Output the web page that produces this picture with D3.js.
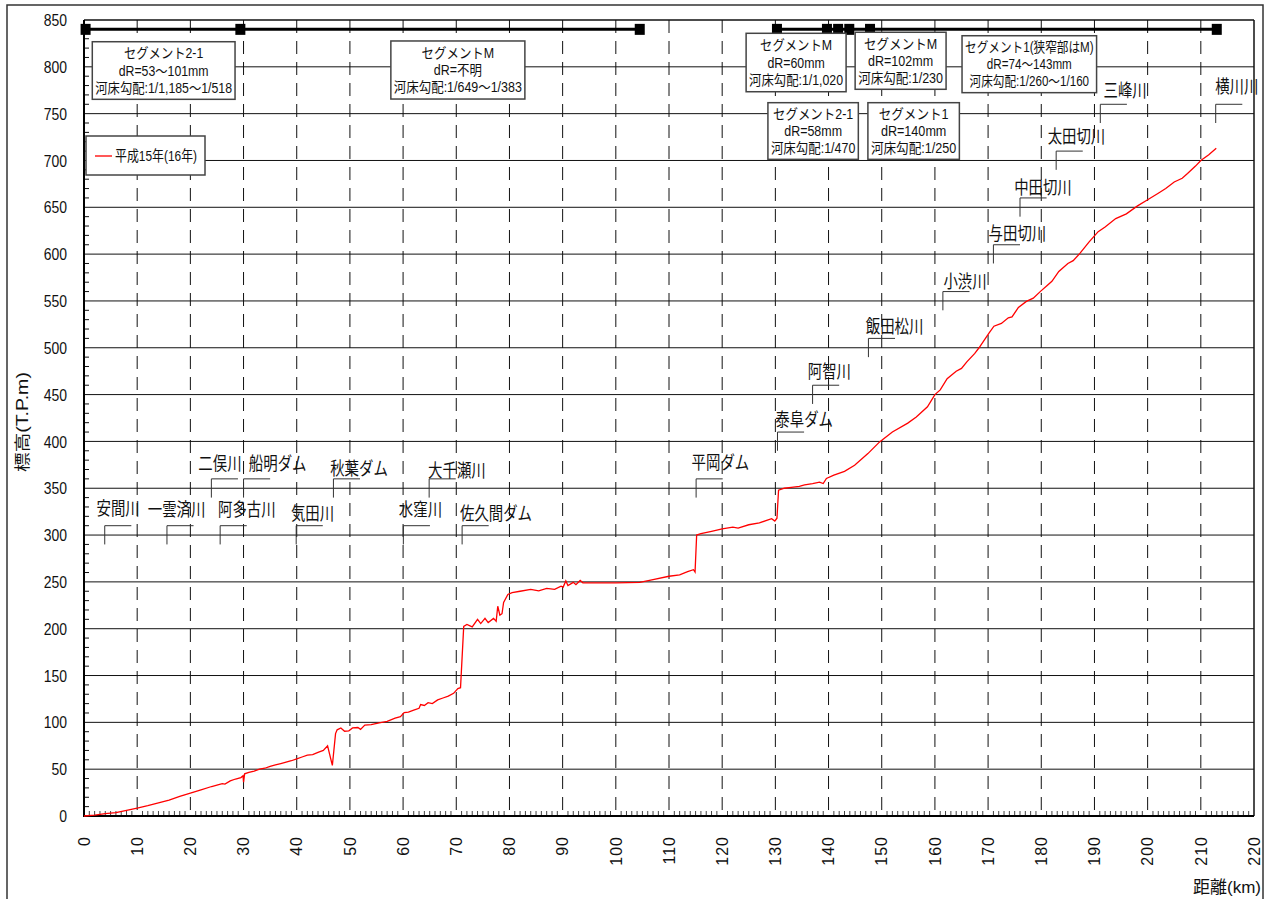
<!DOCTYPE html>
<html><head><meta charset="utf-8">
<script src="https://cdn.jsdelivr.net/npm/d3@7"></script>
<style>body{margin:0;background:#fff}svg{display:block}</style>
</head><body><svg id="c" width="1269" height="899"></svg>
<script>
// ---- data ----
const distanceKm = [0,2,4,6,8,10,12,14,16,18,20,22,24,25,26,26.5,27.5,28.5,29.5,29.9,30,30.2,31,32,33,34,35,36,37,38,39,40,41,42,43,44,45,45.8,46.7,47.3,47.6,48.3,49,49.8,50.5,51.5,52,52.8,54,55.5,57,58.5,59.5,60.2,61,62,63,63.3,64,64.7,65.5,66.5,67.5,68.5,69.5,70.3,70.8,71.4,72,73,74,74.6,75.4,76,77,77.5,77.8,78.2,78.6,78.9,79.7,80.5,82,84,85.5,87,88.5,89.7,90.1,90.6,91,92,92.5,93.3,93.8,96,100,104.5,107,110,112,113.5,114.6,114.9,115.2,116,118,120,122,123,125,127,128.5,129.3,129.9,130.3,130.6,131.7,133,134.5,135.5,137,138.3,139,139.6,141,143,144.9,147.4,149.6,152,154.9,156.5,158.6,160,161,162.3,164,165,166,167.5,168.3,170.2,171.1,172.5,173.8,174.5,175.7,177.2,178.5,179.9,181,182,183.3,185,186,187.3,189,190.7,192,194,196,198.1,200,202,203.4,205,206.5,207.5,209,210,211.5,212.9];
const elevationM = [0,1,2.5,3.5,6,8.5,11,14,17,21,24.5,28,31.5,33,34.5,34,37.5,39.5,41,43,36,45,46.5,48,50,51,53,54.5,56,57.5,59,61,63,65,65.5,68,70,75,54,88,92,94,90.5,91,94,94.5,92.5,97,97.5,99.5,101,104.5,106,110.5,111,113,115,119,118,121,120,124,126,128,131,136,137,202.5,204.5,202,210,205.5,211,206.5,211,208,224,214.5,216,228,236.5,238.5,240,242,240.5,243,242,245.5,244.5,251,246,249.5,247,251.5,249,249,249,249.5,252.5,256,257.5,261,263,260.5,300,301.5,304,306.5,308.5,307.5,311,313,316,317.5,315,318,348,350,351,352,353.5,355,356.5,355,360.5,364,368,374.5,387,399.5,410,419.5,426,437,450,455,467,475,478,485,494,500,516,523,526,532,533,543,549.5,553,560.5,566,571,581.5,590,593,601,613,624,629,638,643,651.5,658,665,670,677,681,686,694,700,706,713];
const seriesName = "平成15年(16年)";
const xTicks = d3.range(0, 221, 10);
const yTicks = d3.range(0, 851, 50);
const xTitle = "距離(km)";
const yTitle = "標高(T.P.m)";

// segment bar (elevation 840) with boundary markers
const segmentLevel = 840;
const segmentRuns = [[0.3, 29.4, 104.5], [130.3, 139.7, 141.8, 143.9, 147.8, 213]];

// segment annotation boxes
const segmentLines = [
  ["セグメント2-1", "dR=53～101mm", "河床勾配:1/1,185～1/518"],
  ["セグメントM", "dR=不明", "河床勾配:1/649～1/383"],
  ["セグメントM", "dR=60mm", "河床勾配:1/1,020"],
  ["セグメントM", "dR=102mm", "河床勾配:1/230"],
  ["セグメント1(狭窄部はM)", "dR=74～143mm", "河床勾配:1/260～1/160"],
  ["セグメント2-1", "dR=58mm", "河床勾配:1/470"],
  ["セグメント1", "dR=140mm", "河床勾配:1/250"]
];
const segmentBoxKm = [[1.56, 28.4], [57.7, 82.9], [124.5, 143.3], [145.0, 162.1], [165.1, 190.4], [128.6, 145.6], [147.4, 164.6]];
const segmentBoxElev = [[826.8, 765.3], [827.6, 765.6], [835.8, 773.4], [836.9, 776.0], [833.2, 772.4], [761.7, 701.2], [761.7, 701.2]];

// tributary / dam labels
const tributaryNames = ["安間川","一雲済川","阿多古川","気田川","水窪川","佐久間ダム","二俣川","船明ダム","秋葉ダム","大千瀬川","平岡ダム","泰阜ダム","阿智川","飯田松川","小渋川","与田切川","中田切川","太田切川","三峰川","横川川"];
const tributaryKm =    [3.9,15.6,25.6,39.9,60.05,71.1,23.95,30.0,46.9,64.9,115.1,130.4,137.0,147.5,161.5,171.0,176.0,182.8,191.1,212.8];
const tributaryLevel = [310,310,310,310,310,310,360,360,360,360,360,410,460,510,560,610,660,710,760,760];
const tributaryTextKm =   [2.35,12.0,25.2,38.9,59.2,70.7,21.5,31.0,46.3,64.7,114.25,130.0,136.1,147.0,161.6,170.1,174.9,181.2,191.7,212.7];
const tributaryTextElev = [328.7,327,327.7,323.4,327,323.4,375.9,376.6,371.3,368.8,377.3,423,474.5,523,571,622.3,671,726,775,779];

// ---- drawing ----
const svg = d3.select("#c");
const W = 1269, H = 899;
const x = d3.scaleLinear().domain([0, 220]).range([84, 1254]);
const y = d3.scaleLinear().domain([0, 850]).range([816, 20]);
const CJK = "'Liberation Sans','Noto Sans CJK JP',sans-serif";

function condense(sel, f) {
  sel.each(function () {
    const w = this.getComputedTextLength();
    if (w > 0) d3.select(this).attr("textLength", w * f).attr("lengthAdjust", "spacingAndGlyphs");
  });
}

svg.append("rect").attr("x", 0).attr("y", 0).attr("width", W).attr("height", H).attr("fill", "#fff");
svg.append("rect").attr("x", 7).attr("y", 5).attr("width", 1256).attr("height", 910)
  .attr("fill", "none").attr("stroke", "#333").attr("stroke-width", 1.5);

// horizontal gridlines
svg.append("g").selectAll("line").data(yTicks.filter(v => v > 0 && v < 850)).join("line")
  .attr("x1", x(0)).attr("x2", x(220)).attr("y1", d => y(d)).attr("y2", d => y(d))
  .attr("stroke", "#111").attr("stroke-width", 1);

// vertical dashed gridlines
svg.append("g").selectAll("line").data(xTicks.filter(v => v > 0 && v < 220)).join("line")
  .attr("x1", d => x(d)).attr("x2", d => x(d)).attr("y1", y(850)).attr("y2", y(0))
  .attr("stroke", "#111").attr("stroke-width", 1).attr("stroke-dasharray", "13,8");

// minor ticks
svg.append("g").selectAll("line").data(d3.range(0, 851, 10).filter(v => v % 50 !== 0)).join("line")
  .attr("x1", x(0)).attr("x2", x(0) + 5).attr("y1", d => y(d)).attr("y2", d => y(d))
  .attr("stroke", "#111").attr("stroke-width", 1);
svg.append("g").selectAll("line").data(d3.range(1, 220, 1).filter(v => v % 10 !== 0)).join("line")
  .attr("x1", d => x(d)).attr("x2", d => x(d)).attr("y1", y(0)).attr("y2", y(0) - 5)
  .attr("stroke", "#444").attr("stroke-width", 1);

// plot border
svg.append("line").attr("x1", x(0)).attr("x2", x(220)).attr("y1", y(850)).attr("y2", y(850)).attr("stroke", "#111").attr("stroke-width", 1.5);
svg.append("line").attr("x1", x(220)).attr("x2", x(220)).attr("y1", y(850)).attr("y2", y(0)).attr("stroke", "#111").attr("stroke-width", 1.5);
svg.append("line").attr("x1", x(0)).attr("x2", x(0)).attr("y1", y(850)).attr("y2", y(0) + 1).attr("stroke", "#000").attr("stroke-width", 2);
svg.append("line").attr("x1", x(0) - 1).attr("x2", x(220)).attr("y1", y(0)).attr("y2", y(0)).attr("stroke", "#000").attr("stroke-width", 2);

// y tick labels
svg.append("g").selectAll("text").data(yTicks).join("text")
  .attr("x", 67).attr("y", d => y(d)).attr("dy", "0.36em").attr("text-anchor", "end")
  .attr("font-family", "'Liberation Sans',Arial,sans-serif").attr("font-size", 17).attr("fill", "#111")
  .text(d => d).call(condense, 0.82);

// x tick labels (rotated)
svg.append("g").selectAll("text").data(xTicks).join("text")
  .attr("transform", d => `translate(${x(d)},836) rotate(-90)`)
  .attr("text-anchor", "end").attr("dy", "0.36em")
  .attr("font-family", "'Liberation Sans',Arial,sans-serif").attr("font-size", 16).attr("letter-spacing", 1).attr("fill", "#111")
  .text(d => d);

// axis titles
svg.append("text").attr("x", 1261).attr("y", 893).attr("text-anchor", "end")
  .attr("font-family", CJK).attr("font-size", 17).attr("fill", "#111").text(xTitle);
svg.append("text").attr("transform", "translate(28,422) rotate(-90)").attr("text-anchor", "middle")
  .attr("font-family", CJK).attr("font-size", 16).attr("fill", "#111")
  .attr("textLength", 100).attr("lengthAdjust", "spacingAndGlyphs").text(yTitle);

// segment bar
const segG = svg.append("g");
segmentRuns.forEach(run => {
  segG.append("line").attr("x1", x(run[0])).attr("x2", x(run[run.length - 1]))
    .attr("y1", y(segmentLevel)).attr("y2", y(segmentLevel)).attr("stroke", "#000").attr("stroke-width", 3);
  segG.selectAll(null).data(run).join("rect")
    .attr("x", d => x(d) - 5).attr("y", y(segmentLevel) - 5.5).attr("width", 10).attr("height", 11).attr("fill", "#000");
});

// segment boxes
segmentLines.forEach((lines, i) => {
  const x0 = x(segmentBoxKm[i][0]), x1 = x(segmentBoxKm[i][1]);
  const y0 = y(segmentBoxElev[i][0]), y1 = y(segmentBoxElev[i][1]);
  const g = svg.append("g");
  g.append("rect").attr("x", x0).attr("y", y0).attr("width", x1 - x0).attr("height", y1 - y0)
    .attr("fill", "#fff").attr("stroke", "#444").attr("stroke-width", 1.5);
  const cx = (x0 + x1) / 2, h = y1 - y0;
  const t = g.selectAll("text").data(lines).join("text")
    .attr("x", cx).attr("y", (d, j) => y0 + h * (0.2 + 0.3 * j)).attr("dy", "0.36em")
    .attr("text-anchor", "middle").attr("font-family", CJK).attr("font-size", 14).attr("fill", "#111")
    .text(d => d);
  let maxW = 0; t.each(function () { maxW = Math.max(maxW, this.getComputedTextLength()); });
  const f = Math.min(0.9, (x1 - x0 - 6) / maxW);
  t.call(condense, f);
});

// legend
const lg = svg.append("g");
lg.append("rect").attr("x", 86).attr("y", 136).attr("width", 119).attr("height", 39)
  .attr("fill", "#fff").attr("stroke", "#444").attr("stroke-width", 1.5);
lg.append("line").attr("x1", 95).attr("x2", 112).attr("y1", 156).attr("y2", 156).attr("stroke", "#ff2020").attr("stroke-width", 1.5);
lg.append("text").attr("x", 115).attr("y", 156).attr("dy", "0.36em").attr("font-family", CJK).attr("font-size", 15)
  .attr("fill", "#111").attr("textLength", 82).attr("lengthAdjust", "spacingAndGlyphs").text(seriesName);

// tributary labels
const tg = svg.append("g");
tributaryNames.forEach((n, i) => {
  const lx = x(tributaryKm[i]), ly = y(tributaryLevel[i]);
  tg.append("path").attr("d", `M${x(tributaryKm[i] + 5)},${ly}H${lx}V${y(tributaryLevel[i] - 20)}`)
    .attr("fill", "none").attr("stroke", "#333").attr("stroke-width", 1);
  tg.append("text").attr("x", x(tributaryTextKm[i])).attr("y", y(tributaryTextElev[i])).attr("dy", "0.36em")
    .attr("font-family", "'Noto Sans CJK JP',sans-serif").attr("font-size", 18).attr("fill", "#111")
    .text(n).call(condense, 0.8);
});

// profile line
svg.append("path").datum(distanceKm.map((d, i) => [d, elevationM[i]]))
  .attr("d", d3.line().x(d => x(d[0])).y(d => y(d[1])))
  .attr("fill", "none").attr("stroke", "#ff0000").attr("stroke-width", 1.3);
</script></body></html>
